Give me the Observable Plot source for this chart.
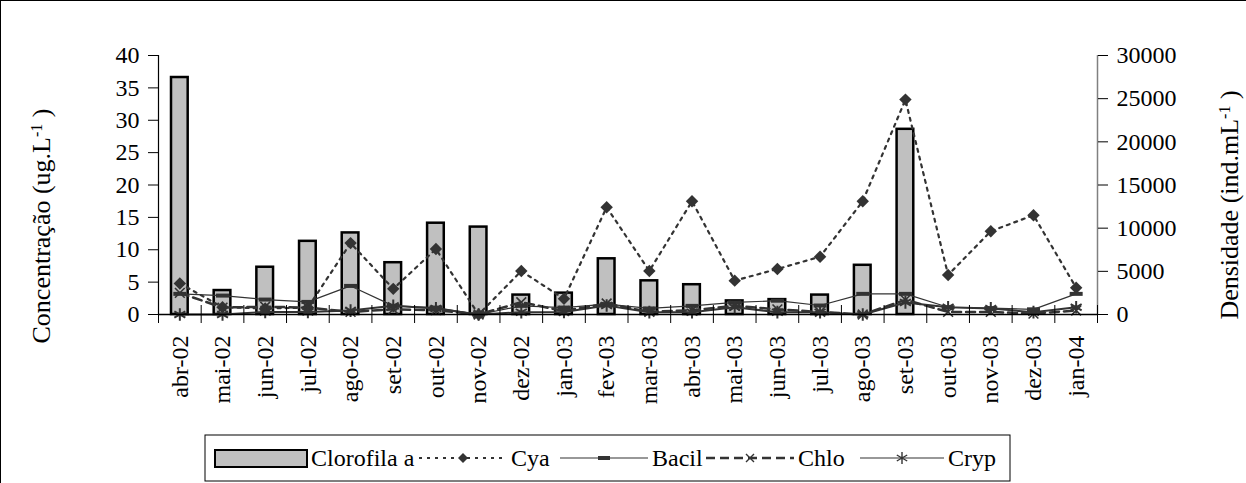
<!DOCTYPE html>
<html>
<head>
<meta charset="utf-8">
<script src="https://cdn.jsdelivr.net/npm/d3@7"></script>
<script src="https://cdn.jsdelivr.net/npm/@observablehq/plot@0.6"></script>
<style>
  body { margin: 0; background: #fff; }
  #fig {
    position: relative; width: 1246px; height: 483px; box-sizing: border-box;
    border-top: 1px solid #000; border-left: 1px solid #000; overflow: hidden;
    font-family: "Liberation Serif", "Times New Roman", serif;
  }
  #chart { position: absolute; left: -1px; top: -1px; }
  #legend { position: absolute; left: 203px; top: 433px; }
</style>
</head>
<body>
<div id="fig"><div id="chart"></div><div id="legend"></div></div>
<script>
// Monthly sampling, April 2002 – January 2004
const months = ["abr-02","mai-02","jun-02","jul-02","ago-02","set-02","out-02","nov-02","dez-02","jan-03","fev-03","mar-03","abr-03","mai-03","jun-03","jul-03","ago-03","set-03","out-03","nov-03","dez-03","jan-04"];

// Chlorophyll a concentration (ug/L), left axis
const clorofila = [36.6, 3.7, 7.3, 11.3, 12.6, 8.0, 14.1, 13.5, 3.0, 3.3, 8.6, 5.2, 4.6, 2.1, 2.3, 3.0, 7.6, 28.6, null, null, null, null];

// Phytoplankton densities (ind/mL), right axis
const cya   = [3600, 840, 700, 800, 8270, 2970, 7580, 0, 5040, 1810, 12430, 5040, 13120, 3920, 5270, 6690, 13120, 24890, 4580, 9650, 11500, 3100];
const bacil = [2390, 2190, 1730, 1460, 3310, 1000, 800, 0, 1000, 800, 1200, 700, 1000, 1400, 1600, 1040, 2390, 2390, 840, 730, 600, 2390];
const chlo  = [2500, 800, 900, 800, 300, 600, 500, 0, 1420, 400, 1270, 300, 500, 1000, 600, 300, 0, 1700, 300, 300, 100, 460];
const cryp  = [0, 0, 300, 300, 450, 1000, 700, 0, 270, 300, 1040, 270, 270, 840, 270, 270, 0, 1400, 840, 700, 270, 840];

const yMax = 40, dMax = 30000;
const k = yMax / dMax;            // density -> left-axis units

const rows = months.map((m, i) => ({
  i, m, chl: clorofila[i],
  cya: cya[i] * k, bacil: bacil[i] * k, chlo: chlo[i] * k, cryp: cryp[i] * k
}));
const mid = d => d.i + 0.5;
const ink = "#333";

// short horizontal bar used as the Bacil marker
const dashSymbol = { draw(ctx) { ctx.rect(-6.5, -2, 13, 4); } };

const serif = "Liberation Serif, Times New Roman, serif";

const chart = Plot.plot({
  width: 1246, height: 428,
  marginLeft: 158, marginRight: 149, marginTop: 55, marginBottom: 114,
  style: { fontFamily: serif, fontSize: "24px", color: "#000", background: "transparent", overflow: "visible" },
  x: { domain: [0, months.length] },
  y: { domain: [0, yMax] },
  marks: [
    Plot.rectY(rows.filter(d => d.chl != null), {
      x1: "i", x2: d => d.i + 1, y: "chl", insetLeft: 13, insetRight: 13,
      fill: "#c0c0c0", stroke: "#000", strokeWidth: 2.5
    }),
    // Cya
    Plot.line(rows, { x: mid, y: "cya", stroke: ink, strokeWidth: 2.2, strokeDasharray: "3,5" }),
    Plot.dot(rows, { x: mid, y: "cya", symbol: "diamond2", r: 5.6, fill: ink, stroke: "none" }),
    // Bacil
    Plot.line(rows, { x: mid, y: "bacil", stroke: ink, strokeWidth: 1.2 }),
    Plot.dot(rows, { x: mid, y: "bacil", symbol: dashSymbol, fill: ink, stroke: "none" }),
    // Chlo
    Plot.line(rows, { x: mid, y: "chlo", stroke: ink, strokeWidth: 2.5, strokeDasharray: "9,5" }),
    Plot.dot(rows, { x: mid, y: "chlo", symbol: "times", r: 4.5, stroke: ink, strokeWidth: 1.6 }),
    // Cryp
    Plot.line(rows, { x: mid, y: "cryp", stroke: ink, strokeWidth: 2 }),
    Plot.dot(rows, { x: mid, y: "cryp", symbol: "asterisk", r: 6, stroke: ink, strokeWidth: 2 }),
    // axes
    Plot.ruleX([0], { stroke: "#000", strokeWidth: 1.2 }),
    Plot.ruleX([months.length], { stroke: "#808080", strokeWidth: 1.5 }),
    Plot.ruleY([0], { stroke: "#000", strokeWidth: 1.5 }),
    Plot.axisY({ anchor: "left", ticks: d3.range(0, yMax + 1, 5), tickSize: 10, tickPadding: 9, label: null }),
    Plot.axisY({
      anchor: "right", ticks: d3.range(0, dMax + 1, 5000).map(v => v * k),
      tickFormat: v => String(Math.round(v / k)), tickSize: 10, tickPadding: 9, label: null
    }),
    Plot.axisX({ ticks: d3.range(0, months.length + 1), tickSize: 18, dy: -9, tickFormat: () => "", label: null }),
    Plot.axisX({
      ticks: months.map((m, i) => i + 0.5), tickSize: 0, tickPadding: 21, tickRotate: -90,
      tickFormat: t => months[Math.floor(t)], label: null
    })
  ]
});
document.getElementById("chart").appendChild(chart);

// axis titles with superscript units
function title(x, y, main, unit) {
  const t = d3.select(chart).append("text")
    .attr("transform", `translate(${x},${y}) rotate(-90)`)
    .attr("text-anchor", "middle")
    .attr("font-family", serif).attr("font-size", 26).attr("fill", "#000");
  t.append("tspan").text(main + " (" + unit);
  t.append("tspan").attr("baseline-shift", "super").attr("font-size", 16).text("-1");
  t.append("tspan").text(" )");
}
title(50, 226, "Concentração", "ug.L");
title(1238, 205, "Densidade", "ind.mL");

// legend
const lg = d3.select("#legend").append("svg").attr("width", 807).attr("height", 48)
  .attr("font-family", serif).attr("font-size", 24);
lg.append("rect").attr("x", 1).attr("y", 1).attr("width", 805).attr("height", 46)
  .attr("fill", "#fff").attr("stroke", "#000").attr("stroke-width", 1);
const cy = 24;
lg.append("rect").attr("x", 11).attr("y", cy - 8).attr("width", 92).attr("height", 17)
  .attr("fill", "#c0c0c0").attr("stroke", "#000").attr("stroke-width", 2);
const items = [
  { x: 107, text: "Clorofila a" },
  { x: 215, w: 88, dash: "3,5", sw: 2.2, sym: "diamond", text: "Cya" },
  { x: 356, w: 88, dash: null, sw: 1.2, sym: "bar", text: "Bacil" },
  { x: 502, w: 88, dash: "9,5", sw: 2.5, sym: "times", text: "Chlo" },
  { x: 656, w: 84, dash: null, sw: 1.2, sym: "asterisk", text: "Cryp" }
];
for (const it of items) {
  let tx = it.x;
  if (it.w) {
    const ln = lg.append("line").attr("x1", it.x).attr("x2", it.x + it.w).attr("y1", cy).attr("y2", cy)
      .attr("stroke", ink).attr("stroke-width", it.sw);
    if (it.dash) ln.attr("stroke-dasharray", it.dash);
    const cx = it.x + it.w / 2;
    const g = lg.append("g").attr("transform", `translate(${cx},${cy})`);
    if (it.sym === "diamond") g.append("path").attr("d", "M0,-5L5,0L0,5L-5,0Z").attr("fill", ink);
    if (it.sym === "bar") g.append("rect").attr("x", -6).attr("y", -2).attr("width", 12).attr("height", 4).attr("fill", ink);
    if (it.sym === "times") g.append("path").attr("d", "M-4,-4L4,4M-4,4L4,-4").attr("stroke", ink).attr("stroke-width", 1.4);
    if (it.sym === "asterisk") g.append("path").attr("d", "M0,-6L0,6M-5.2,-3L5.2,3M-5.2,3L5.2,-3").attr("stroke", ink).attr("stroke-width", 1.4);
    tx = it.x + it.w + 4;
  }
  lg.append("text").attr("x", tx).attr("y", cy).attr("dy", "0.35em").text(it.text);
}
</script>
</body>
</html>
